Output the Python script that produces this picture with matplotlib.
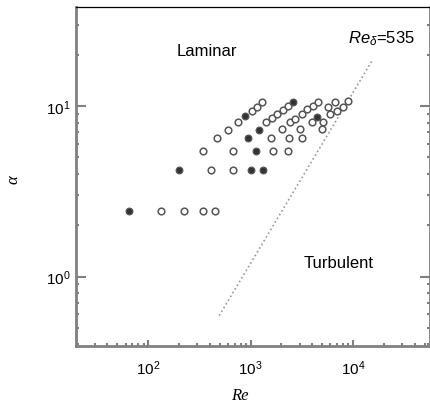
import matplotlib
matplotlib.use("Agg")
import matplotlib.pyplot as plt
import numpy as np
from matplotlib.ticker import LogLocator, NullFormatter


# open symbols: (Re, alpha)
re_open = [133, 223, 342, 448,
           410, 672,
           342, 672, 1651, 2312,
           469, 1578, 2366, 3170,
           600, 751, 1030, 1153, 1289,
           1411, 1614, 1806, 2066, 2312,
           2021, 2421, 2710, 3170, 3548, 4055, 4540,
           3030, 3970, 5690, 6655,
           4970, 5080, 5945, 6965, 7965, 8915]
alpha_open = [2.42, 2.42, 2.42, 2.42,
              4.21, 4.21,
              5.44, 5.44, 5.44, 5.44,
              6.48, 6.48, 6.48, 6.48,
              7.22, 8.05, 9.33, 9.85, 10.54,
              8.05, 8.49, 8.97, 9.46, 9.98,
              7.32, 8.05, 8.38, 8.97, 9.59, 9.98, 10.54,
              7.32, 8.05, 9.85, 10.54,
              7.32, 8.05, 8.97, 9.33, 9.85, 10.68]

# filled symbols
re_filled = [64.8, 199.5, 1007, 1318, 1127, 941, 879, 1205, 2588, 4437]
alpha_filled = [2.42, 4.21, 4.21, 4.21, 5.44, 6.48, 8.73, 7.22, 10.54, 8.61]

# Re_delta = 535 boundary
re_line = [493, 15300]
alpha_line = [0.59, 18.4]

plt.rcParams["font.family"] = ["Liberation Sans", "DejaVu Sans"]
plt.rcParams["mathtext.fontset"] = "custom"
plt.rcParams["mathtext.rm"] = "Liberation Sans"
plt.rcParams["mathtext.it"] = "Liberation Sans:italic"

fig = plt.figure(figsize=(4.31, 4.06), dpi=100)
ax = fig.add_axes([0.1763, 0.1446, 0.8214, 0.8369])

ax.plot(re_line, alpha_line, linestyle=(0, (1, 1.6)), color="#999999", lw=1.2)
ax.plot(re_open, alpha_open, "o", ms=4.8, mfc="white", mec="#555555", mew=1.1)
ax.plot(re_filled, alpha_filled, "o", ms=4.8, mfc="#333333", mec="#555555", mew=0.9)

ax.set_xscale("log")
ax.set_yscale("log")
ax.set_xlim(19.7, 56400)
ax.set_ylim(0.39, 38.3)

ax.xaxis.set_major_locator(LogLocator(base=10))
ax.xaxis.set_minor_locator(LogLocator(base=10, subs=np.arange(2, 10)))
ax.yaxis.set_major_locator(LogLocator(base=10))
ax.yaxis.set_minor_locator(LogLocator(base=10, subs=np.arange(2, 10)))
ax.xaxis.set_minor_formatter(NullFormatter())
ax.yaxis.set_minor_formatter(NullFormatter())

gray = "#808080"
for side in ["left", "bottom", "right"]:
    ax.spines[side].set_color(gray)
    ax.spines[side].set_linewidth(2)
ax.spines["top"].set_color("black")
ax.spines["top"].set_linewidth(0.9)

ax.tick_params(axis="x", which="major", direction="in", length=4, width=1.5,
               color=gray, labelsize=11, pad=9, top=False)
ax.tick_params(axis="x", which="minor", direction="in", length=2.5, width=1.5,
               color=gray, top=False)
ax.tick_params(axis="y", which="major", direction="in", length=7, width=1.5,
               color=gray, labelsize=11, pad=4, right=True)
ax.tick_params(axis="y", which="minor", direction="in", length=2, width=1.5,
               color=gray, right=True)

ax.text(0.285, 0.872, "Laminar", transform=ax.transAxes, fontsize=12,
        ha="left", va="center")
ax.text(0.643, 0.248, "Turbulent", transform=ax.transAxes, fontsize=12,
        ha="left", va="center")
ax.text(0.768, 0.907, r"$\mathit{Re}_{\delta}$=535", transform=ax.transAxes,
        fontsize=12, ha="left", va="center")

fig.text(240 / 431, 1 - 396 / 406, "Re", fontfamily="Liberation Serif",
         style="italic", fontsize=12, ha="center", va="center")
fig.text(13 / 431, 1 - 180 / 406, "α", fontfamily="Liberation Serif",
         style="italic", fontsize=12, ha="center", va="center", rotation=90)

plt.savefig("out.png", dpi=100)
